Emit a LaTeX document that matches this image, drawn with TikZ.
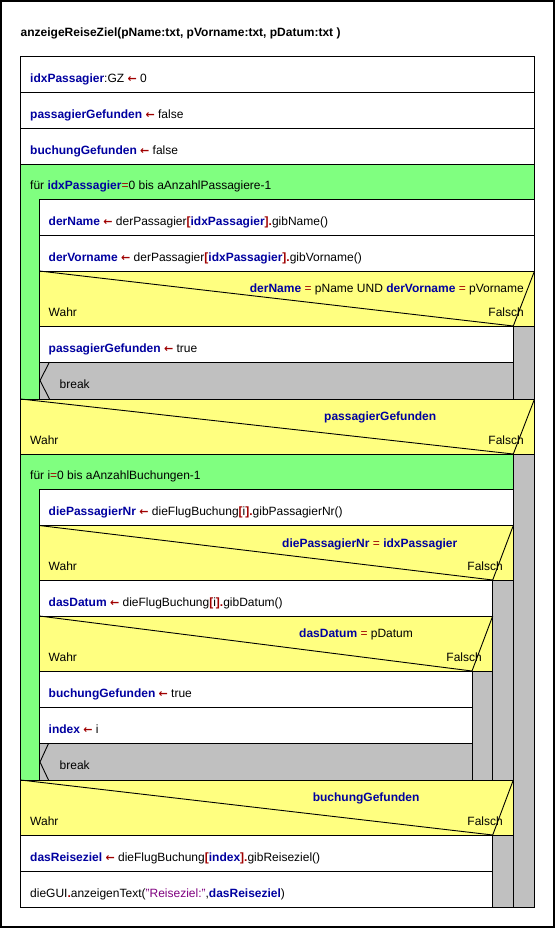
\documentclass[tikz,border=0pt]{standalone}
\usepackage{fontspec}
\setmainfont{Liberation Sans}
\newfontfamily\arrowfont{DejaVu Sans}
\usetikzlibrary{calc}

\definecolor{nsgreen}{RGB}{128,255,128}
\definecolor{nsyellow}{RGB}{255,255,128}
\definecolor{nsgray}{RGB}{192,192,192}
\definecolor{nsblue}{RGB}{0,0,160}
\definecolor{nsred}{RGB}{160,0,0}
\definecolor{nspurple}{RGB}{128,0,128}

% variable names, operators and the assignment arrow
\newcommand{\vb}[1]{\textcolor{nsblue}{\textbf{#1}}}
\newcommand{\opr}[1]{\textcolor{nsred}{#1}}
\newcommand{\opb}[1]{\textcolor{nsred}{\textbf{#1}}}
\newcommand{\asg}{ \textcolor{nsred}{{\arrowfont\bfseries\fontsize{11}{13}\selectfont ←}} }
\newcommand{\strlit}[1]{\textcolor{nspurple}{#1}}

\begin{document}
\begin{tikzpicture}[x=1pt,y=-1pt,
  cell/.style={draw=black,line width=0.9pt},
  whitecell/.style={cell,fill=white},
  loopcell/.style={cell,fill=nsgreen},
  ifcell/.style={cell,fill=nsyellow},
  emptycell/.style={cell,fill=nsgray},
  diag/.style={draw=black,line width=0.9pt},
  txt/.style={inner sep=0pt,anchor=base west,font=\fontsize{12}{14}\selectfont},
  txtr/.style={txt,anchor=base east}]

\useasboundingbox (0,0) rectangle (555,928);
\fill[white] (0,0) rectangle (555,928);
\draw[line width=1.6pt] (0.8,0.8) rectangle (554.2,927.2);

% header
\node[txt] (title) at (20.5,37) {\textbf{anzeigeReiseZiel(pName:txt, pVorname:txt, pDatum:txt )}};

% initial assignments
\path[whitecell] (20.5,56) rectangle (534.5,92.5);
\node[txt] (s1) at (30,82.5) {\vb{idxPassagier}:GZ\asg 0};
\path[whitecell] (20.5,92.5) rectangle (534.5,128.5);
\node[txt] (s2) at (30,118.5) {\vb{passagierGefunden}\asg false};
\path[whitecell] (20.5,128.5) rectangle (534.5,164.5);
\node[txt] (s3) at (30,154.5) {\vb{buchungGefunden}\asg false};

% first loop
\path[loopcell] (20.5,164.5) rectangle (534.5,399);
\node[txt] (loop1) at (30,189.5) {für \vb{idxPassagier}\opr{=}0 bis aAnzahlPassagiere-1};
\path[whitecell] (39.3,199.5) rectangle (534.5,235.5);
\node[txt] (s4) at (48.5,225.5) {\vb{derName}\asg derPassagier\opb{[}\vb{idxPassagier}\opb{].}gibName()};
\path[whitecell] (39.3,235.5) rectangle (534.5,271);
\node[txt] (s5) at (48.5,261) {\vb{derVorname}\asg derPassagier\opb{[}\vb{idxPassagier}\opb{].}gibVorname()};

% condition on name and first name
\path[ifcell] (39.3,271) rectangle (534.5,326);
\draw[diag] (39.3,271) -- (513.3,326) -- (534.5,271);
\node[txtr] (c1) at (524,292.5) {\vb{derName} \opr{=} pName UND \vb{derVorname} \opr{=} pVorname};
\node[txt] (c1t) at (48.5,316) {Wahr};
\node[txtr] (c1f) at (524,316) {Falsch};
\path[whitecell] (39.3,326) rectangle (513.3,362);
\node[txt] (s6) at (48.5,352) {\vb{passagierGefunden}\asg true};
\path[emptycell] (39.3,362) rectangle (513.3,399);
\draw[diag] (49.5,362) -- (40,380.5) -- (49.5,399);
\node[txt] (b1) at (59.5,388) {break};
\path[emptycell] (513.3,326) rectangle (534.5,399);

% was the passenger found
\path[ifcell] (20.5,399) rectangle (534.5,454);
\draw[diag] (20.5,399) -- (513.3,454) -- (534.5,399);
\node[txt] (c2) at (324,420.5) {\vb{passagierGefunden}};
\node[txt] (c2t) at (30,444) {Wahr};
\node[txtr] (c2f) at (524,444) {Falsch};
\path[emptycell] (513.3,454) rectangle (534.5,907);

% second loop
\path[loopcell] (20.5,454) rectangle (513.3,780);
\node[txt] (loop2) at (30,479.5) {für i\opr{=}0 bis aAnzahlBuchungen-1};
\path[whitecell] (39.3,489.5) rectangle (513.3,525.5);
\node[txt] (s7) at (48.5,515.5) {\vb{diePassagierNr}\asg dieFlugBuchung\opb{[}i\opb{].}gibPassagierNr()};

\path[ifcell] (39.3,525.5) rectangle (513.3,580);
\draw[diag] (39.3,525.5) -- (492.7,580) -- (513.3,525.5);
\node[txt] (c3) at (282,547) {\vb{diePassagierNr} \opr{=} \vb{idxPassagier}};
\node[txt] (c3t) at (48.5,570) {Wahr};
\node[txtr] (c3f) at (503,570) {Falsch};
\path[emptycell] (492.7,580) rectangle (513.3,780);

\path[whitecell] (39.3,580) rectangle (492.7,616);
\node[txt] (s8) at (48.5,606) {\vb{dasDatum}\asg dieFlugBuchung\opb{[}i\opb{].}gibDatum()};

\path[ifcell] (39.3,616) rectangle (492.7,671);
\draw[diag] (39.3,616) -- (472,671) -- (492.7,616);
\node[txt] (c4) at (299,637.5) {\vb{dasDatum} \opr{=} pDatum};
\node[txt] (c4t) at (48.5,661) {Wahr};
\node[txtr] (c4f) at (482,661) {Falsch};
\path[emptycell] (472,671) rectangle (492.7,780);

\path[whitecell] (39.3,671) rectangle (472,707.5);
\node[txt] (s9) at (48.5,697.5) {\vb{buchungGefunden}\asg true};
\path[whitecell] (39.3,707.5) rectangle (472,743.5);
\node[txt] (s10) at (48.5,733.5) {\vb{index}\asg i};
\path[emptycell] (39.3,743.5) rectangle (472,780);
\draw[diag] (48.5,743.5) -- (40,762) -- (48.5,780);
\node[txt] (b2) at (59.5,769.5) {break};

% was the booking found
\path[ifcell] (20.5,780) rectangle (513.3,835);
\draw[diag] (20.5,780) -- (492.7,835) -- (513.3,780);
\node[txt] (c5) at (312.6,801.5) {\vb{buchungGefunden}};
\node[txt] (c5t) at (30,825) {Wahr};
\node[txtr] (c5f) at (503,825) {Falsch};
\path[emptycell] (492.7,835) rectangle (513.3,907);

\path[whitecell] (20.5,835) rectangle (492.7,871);
\node[txt] (s11) at (30,861) {\vb{dasReiseziel}\asg dieFlugBuchung\opb{[}\vb{index}\opb{].}gibReiseziel()};
\path[whitecell] (20.5,871) rectangle (492.7,907);
\node[txt] (s12) at (30,897) {dieGUI\opb{.}anzeigenText(\strlit{"Reiseziel:"},\vb{dasReiseziel})};

\end{tikzpicture}
\end{document}
